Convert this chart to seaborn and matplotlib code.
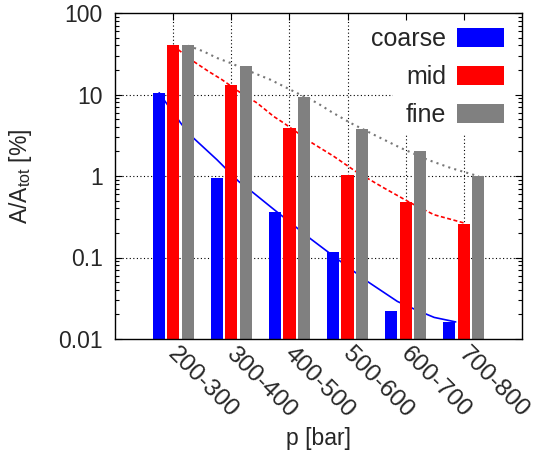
import matplotlib
matplotlib.use("Agg")
import matplotlib.pyplot as plt
import matplotlib.transforms as mtransforms
from matplotlib.patches import Patch, Rectangle
from matplotlib.ticker import LogLocator, NullFormatter, FixedFormatter, FixedLocator
import pandas as pd
import seaborn as sns

# pressure classes and area fractions per mesh resolution
ranges = ["200-300", "300-400", "400-500", "500-600", "600-700", "700-800"]
coarse = [10.5, 0.95, 0.365, 0.118, 0.0222, 0.0163]
mid = [40.0, 13.2, 3.9, 1.04, 0.48, 0.26]
fine = [40.0, 22.5, 9.4, 3.8, 2.0, 0.99]
resolutions = ["coarse", "mid", "fine"]
colors = ["#0000ff", "#ff0000", "#808080"]

# fitted trend curves (x in class index units, y in %)
coarse_fit_x = [-0.24, -0.138, 0.15, 0.35, 0.753, 1.126, 1.384, 1.702, 2.362,
                2.879, 3.34, 3.857, 4.17, 4.49, 4.86]
coarse_fit_y = [10.5, 8.22, 4.27, 2.92, 1.585, 0.859, 0.618, 0.405, 0.170,
                0.0895, 0.0509, 0.0289, 0.0229, 0.0184, 0.0162]
mid_fit_x = [0.0, 0.103, 0.35, 0.609, 0.84, 1.126, 1.443, 1.729, 1.902, 2.391,
             2.764, 3.138, 3.626, 4.086, 4.486, 5.005]
mid_fit_y = [39.7, 34.8, 25.5, 19.2, 15.2, 10.9, 7.87, 5.38, 4.47, 2.54,
             1.74, 1.14, 0.713, 0.467, 0.335, 0.265]
fine_fit_x = [0.259, 0.522, 0.753, 0.983, 1.384, 1.672, 1.960, 2.133, 2.478,
              2.707, 3.052, 3.453, 3.914, 4.374, 4.776, 5.259]
fine_fit_y = [39.7, 33.8, 28.1, 24.4, 18.4, 15.2, 12.0, 10.4, 7.87,
              6.21, 4.47, 3.21, 2.21, 1.585, 1.253, 0.99]

df = pd.DataFrame({
    "range": ranges * 3,
    "resolution": [r for r in resolutions for _ in ranges],
    "share": coarse + mid + fine,
})

sns.set_style("white")
plt.rcParams["font.family"] = ["Liberation Sans", "DejaVu Sans"]
FS = 16.5
FS_X = 17.5
FS_LEG = 18

fig = plt.figure(figsize=(5.34, 4.57), dpi=100)
ax = fig.add_axes([115 / 534, 1 - 339 / 457, 407 / 534, 326 / 457])

sns.barplot(data=df, x="range", y="share", hue="resolution", order=ranges,
            hue_order=resolutions, palette=colors, saturation=1,
            width=0.75, gap=0.16, errorbar=None, linewidth=0,
            legend=False, ax=ax)
for p in ax.patches:
    p.set_zorder(1)

ax.set_yscale("log")
ax.set_ylim(0.01, 100)
ax.set_xlim(-1, 6)

# trend curves behind the bars
ax.plot(coarse_fit_x, coarse_fit_y, color=colors[0], lw=1.2, zorder=0.8)
ax.plot(mid_fit_x, mid_fit_y, color=colors[1], lw=1.2, zorder=0.8,
        dashes=(2.4, 1.5))
ax.plot(fine_fit_x, fine_fit_y, color="#777777", lw=1.5, zorder=0.8,
        dashes=(1.0, 2.0))

# ticks
yticks = [0.01, 0.1, 1, 10, 100]
ax.yaxis.set_major_locator(FixedLocator(yticks))
ax.yaxis.set_major_formatter(FixedFormatter(["0.01", "0.1", "1", "10", "100"]))
ax.yaxis.set_minor_locator(LogLocator(base=10, subs=range(2, 10)))
ax.yaxis.set_minor_formatter(NullFormatter())
ax.set_xticks(range(len(ranges)))
ax.set_xticklabels(ranges)
ax.tick_params(axis="both", which="major", direction="in", length=5,
               width=0.8, color="black", top=True, right=True,
               bottom=True, left=True)
ax.tick_params(axis="both", which="minor", direction="in", length=2.6,
               width=0.8, color="black", right=True, left=True)
ax.tick_params(axis="y", pad=9, labelsize=FS)
ax.tick_params(axis="x", pad=3, labelsize=FS_X)
shift = mtransforms.ScaledTranslation(6 / 100, 0, fig.dpi_scale_trans)
for lbl in ax.get_xticklabels():
    lbl.set_rotation(-45)
    lbl.set_ha("left")
    lbl.set_va("top")
    lbl.set_rotation_mode("anchor")
    lbl.set_transform(lbl.get_transform() + shift)

# dotted grid at the major tick positions
for v in yticks[1:-1]:
    ax.axhline(v, color="black", lw=0.8, dashes=(1, 2.2), zorder=0.4)
for x in ax.get_xticks():
    ax.axvline(x, color="black", lw=0.8, dashes=(1, 2.2), zorder=0.4)

for s in ax.spines.values():
    s.set_visible(True)
    s.set_color("black")
    s.set_linewidth(1.0)

ax.set_ylabel("A/A$_{\\mathregular{tot}}$ [%]", fontsize=FS)
ax.set_xlabel("p [bar]", fontsize=FS)
ax.yaxis.set_label_coords(-0.2, 0.5)
ax.xaxis.set_label_coords(0.5, -0.27)

# opaque key area: hides the grid behind the legend
ax.add_patch(Rectangle((0.683, 0.629), 0.317, 0.371, transform=ax.transAxes,
                       facecolor="white", edgecolor="none", zorder=0.45))

handles = [Patch(facecolor=c, edgecolor="none") for c in colors]
leg = ax.legend(handles, resolutions, loc="upper right",
                bbox_to_anchor=(1 - 3 / 407, 1 + 1 / 326), markerfirst=False,
                fontsize=FS_LEG, frameon=False, borderaxespad=0.0,
                borderpad=0.6, handlelength=1.9, handleheight=0.8,
                handletextpad=0.4, labelspacing=0.56)
leg.set_zorder(2)

fig.savefig("out.png", dpi=100)
